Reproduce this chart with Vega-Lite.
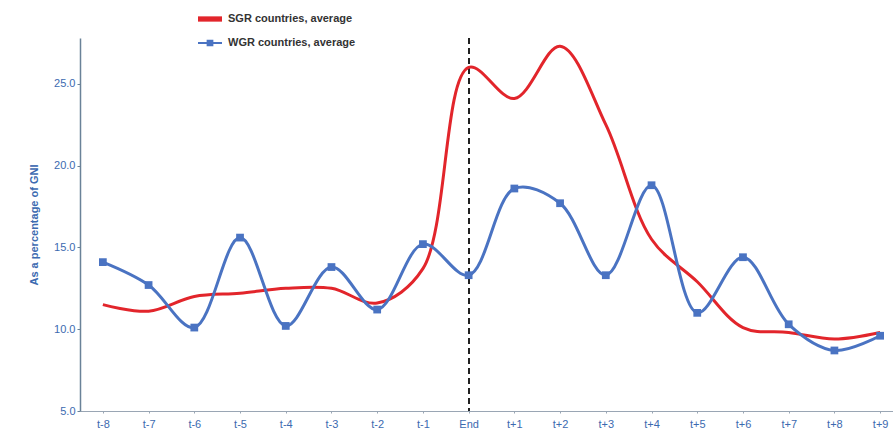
{
  "$schema": "https://vega.github.io/schema/vega-lite/v6.json",
  "autosize": "none",
  "width": 823,
  "height": 373,
  "padding": {"left": 80, "top": 38, "right": 0, "bottom": 31},
  "background": "white",
  "config": {
    "font": "Liberation Sans",
    "view": {"stroke": null}
  },
  "data": {
    "values": [
      {"t": "t-8", "series": "SGR countries, average", "value": 11.5},
      {"t": "t-7", "series": "SGR countries, average", "value": 11.1},
      {"t": "t-6", "series": "SGR countries, average", "value": 12.0},
      {"t": "t-5", "series": "SGR countries, average", "value": 12.2},
      {"t": "t-4", "series": "SGR countries, average", "value": 12.5},
      {"t": "t-3", "series": "SGR countries, average", "value": 12.5},
      {"t": "t-2", "series": "SGR countries, average", "value": 11.6},
      {"t": "t-1", "series": "SGR countries, average", "value": 13.7},
      {"t": "End", "series": "SGR countries, average", "value": 26.0},
      {"t": "t+1", "series": "SGR countries, average", "value": 24.1},
      {"t": "t+2", "series": "SGR countries, average", "value": 27.3},
      {"t": "t+3", "series": "SGR countries, average", "value": 22.5},
      {"t": "t+4", "series": "SGR countries, average", "value": 15.5},
      {"t": "t+5", "series": "SGR countries, average", "value": 12.9},
      {"t": "t+6", "series": "SGR countries, average", "value": 10.1},
      {"t": "t+7", "series": "SGR countries, average", "value": 9.8},
      {"t": "t+8", "series": "SGR countries, average", "value": 9.4},
      {"t": "t+9", "series": "SGR countries, average", "value": 9.8},
      {"t": "t-8", "series": "WGR countries, average", "value": 14.1},
      {"t": "t-7", "series": "WGR countries, average", "value": 12.7},
      {"t": "t-6", "series": "WGR countries, average", "value": 10.1},
      {"t": "t-5", "series": "WGR countries, average", "value": 15.6},
      {"t": "t-4", "series": "WGR countries, average", "value": 10.2},
      {"t": "t-3", "series": "WGR countries, average", "value": 13.8},
      {"t": "t-2", "series": "WGR countries, average", "value": 11.2},
      {"t": "t-1", "series": "WGR countries, average", "value": 15.2},
      {"t": "End", "series": "WGR countries, average", "value": 13.3},
      {"t": "t+1", "series": "WGR countries, average", "value": 18.6},
      {"t": "t+2", "series": "WGR countries, average", "value": 17.7},
      {"t": "t+3", "series": "WGR countries, average", "value": 13.3},
      {"t": "t+4", "series": "WGR countries, average", "value": 18.8},
      {"t": "t+5", "series": "WGR countries, average", "value": 11.0},
      {"t": "t+6", "series": "WGR countries, average", "value": 14.4},
      {"t": "t+7", "series": "WGR countries, average", "value": 10.3},
      {"t": "t+8", "series": "WGR countries, average", "value": 8.7},
      {"t": "t+9", "series": "WGR countries, average", "value": 9.6}
    ]
  },
  "encoding": {
    "x": {
      "field": "t",
      "type": "ordinal",
      "sort": null,
      "scale": {
        "type": "point",
        "padding": 0.5,
        "domain": ["t-8", "t-7", "t-6", "t-5", "t-4", "t-3", "t-2", "t-1", "End", "t+1", "t+2", "t+3", "t+4", "t+5", "t+6", "t+7", "t+8", "t+9"]
      },
      "axis": {
        "title": null,
        "labelAngle": 0,
        "labelColor": "#3c6ab0",
        "labelFontSize": 11,
        "labelPadding": 5,
        "domainColor": "#9aa6b4",
        "tickColor": "#9aa6b4",
        "tickSize": 2
      }
    },
    "y": {
      "field": "value",
      "type": "quantitative",
      "scale": {"domain": [5, 27.8], "nice": false, "zero": false},
      "axis": {
        "title": "As a percentage of GNI",
        "titleColor": "#3c6ab0",
        "titleFontSize": 11,
        "titleFontWeight": "bold",
        "titlePadding": 14,
        "values": [5, 10, 15, 20, 25],
        "format": ".1f",
        "labelColor": "#3c6ab0",
        "labelFontSize": 11,
        "grid": false,
        "domainColor": "#6a8298",
        "domainWidth": 1.5,
        "tickColor": "#6a8298",
        "tickSize": 3
      }
    }
  },
  "layer": [
    {
      "mark": {"type": "rule", "strokeDash": [6, 4], "color": "#222", "strokeWidth": 1.2},
      "encoding": {
        "x": {"datum": "End", "type": "ordinal"},
        "y": {"datum": 27.8},
        "y2": {"datum": 5}
      }
    },
    {
      "mark": {"type": "line", "interpolate": "catmull-rom", "strokeWidth": 3},
      "encoding": {
        "color": {
          "field": "series",
          "type": "nominal",
          "scale": {
            "domain": ["SGR countries, average", "WGR countries, average"],
            "range": ["#e2252b", "#4a73c2"]
          },
          "legend": {
            "title": null,
            "orient": "none",
            "legendX": 118,
            "legendY": -31,
            "labelFontSize": 11,
            "labelFontWeight": "bold",
            "labelColor": "#333333",
            "labelOffset": 6,
            "rowPadding": 7,
            "symbolSize": 576,
            "encode": {
              "symbols": {
                "update": {
                  "shape": {"signal": "datum.value === 'SGR countries, average' ? 'M-1,-0.22H1V0.22H-1Z' : 'M-1,-0.08H1V0.08H-1Z M-0.28,-0.28H0.28V0.28H-0.28Z'"},
                  "fill": {"signal": "datum.value === 'SGR countries, average' ? '#e2252b' : '#4a73c2'"},
                  "strokeWidth": {"value": 0},
                  "opacity": {"value": 1}
                }
              }
            }
          }
        }
      }
    },
    {
      "transform": [{"filter": "datum.series === 'WGR countries, average'"}],
      "mark": {"type": "point", "shape": "square", "filled": true, "size": 60, "color": "#4a73c2", "opacity": 1}
    }
  ]
}
